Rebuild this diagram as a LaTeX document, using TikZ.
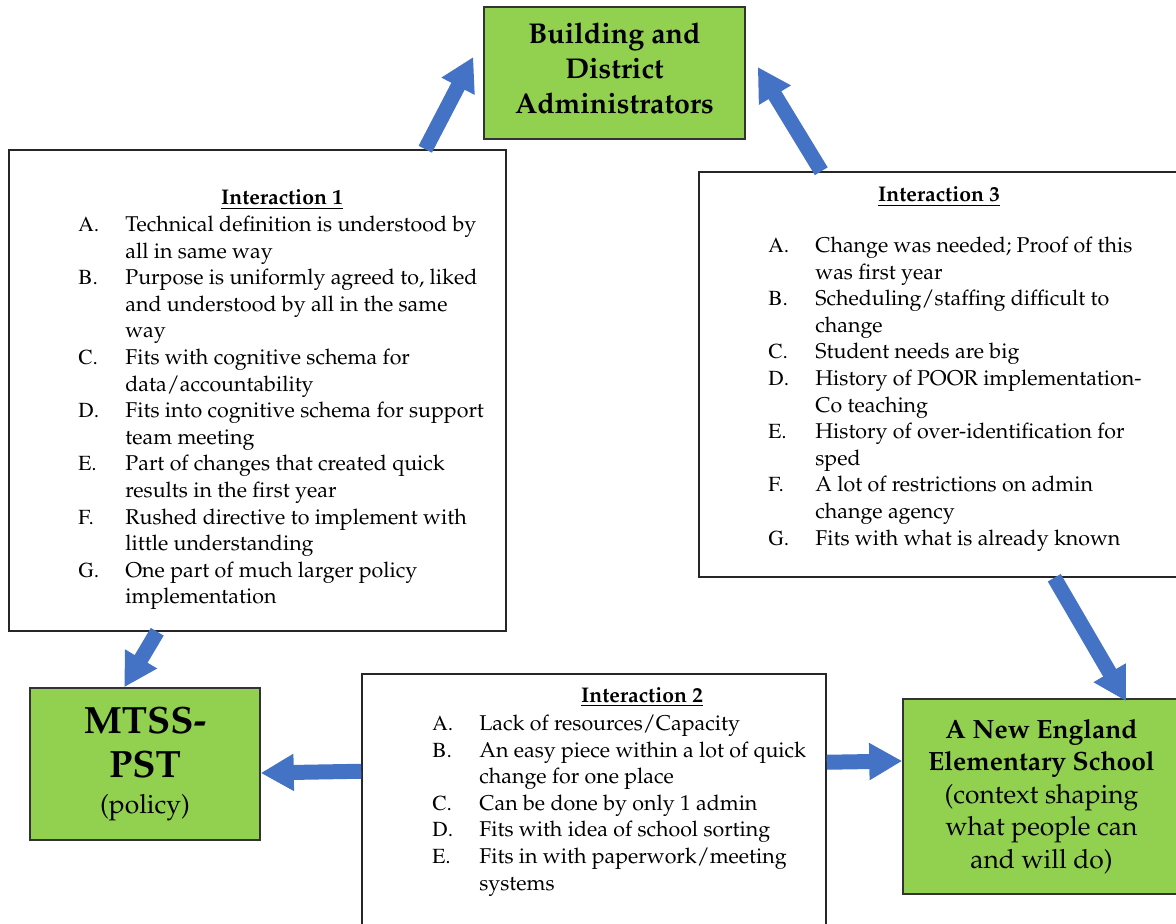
\documentclass[tikz,border=0pt]{standalone}
\usepackage[T1]{fontenc}
\renewcommand{\rmdefault}{ppl}
\usepackage{tikz}
\usetikzlibrary{arrows.meta}
\definecolor{boxgreen}{HTML}{92D050}
\definecolor{arrowblue}{HTML}{4472C4}
\newcommand{\lett}[1]{{\fontfamily{ptm}\selectfont #1}}

\begin{document}
\begin{tikzpicture}[x=0.5pt, y=-0.5pt,
    >={Triangle[width=17.5pt,length=16.5pt]},
    blk/.style={->, draw=arrowblue, line width=7.5pt}]
    \tikzstyle{greenbox} = [draw=black!80, line width=0.75pt, fill=boxgreen, align=center, inner sep=0pt]
    \tikzstyle{intbox} = [draw=black!85, line width=0.75pt, fill=white, inner sep=0pt]
    \tikzstyle{listtext} = [anchor=north west, inner sep=0pt, font=\fontsize{10.7}{13.3}\selectfont]
    \tikzstyle{heading} = [anchor=base, inner sep=0pt, font=\fontsize{10.6}{13.3}\selectfont\bfseries]
    \useasboundingbox (0,0) rectangle (1176,924);

    % the four actors
    \node [greenbox, minimum width=130.5pt, minimum height=66pt,
        font=\fontsize{14.3}{17.5}\selectfont\bfseries] (bld) at (614.5,73)
        {Building and\\District\\Administrators\strut};
    \node [greenbox, minimum width=115pt, minimum height=76pt,
        font=\fontsize{19}{22}\selectfont\bfseries] (mtss) at (145,764)
        {MTSS-\\PST\\[-4pt]{\mdseries\fontsize{13.2}{16}\selectfont (policy)}};
    \node [greenbox, minimum width=138.5pt, minimum height=97.5pt,
        font=\fontsize{13.2}{16.25}\selectfont] (ne) at (1041.5,796.5)
        {{\bfseries A New England}\\{\bfseries Elementary School}\\(context shaping\\what people can\\and will do)};

    % interaction boxes
    \node [intbox, minimum width=248.5pt, minimum height=240.5pt] (int1) at (257.5,390.5) {};
    \node [intbox, minimum width=241pt, minimum height=202.5pt] (int3) at (940,374.5) {};
    \node [intbox, minimum width=232pt, minimum height=130pt] (int2) at (594,804) {};

    \node [heading] (int1head) at (282,205) {\underline{Interaction 1}};
    \node [listtext] (int1list) at (78,212.4) {\begin{tabular}{@{}p{23.5pt}@{}l@{}}
        \lett{A.} & Technical definition is understood by\\
                  & all in same way\\
        \lett{B.} & Purpose is uniformly agreed to, liked\\
                  & and understood by all in the same\\
                  & way\\
        \lett{C.} & Fits with cognitive schema for\\
                  & data/accountability\\
        \lett{D.} & Fits into cognitive schema for support\\
                  & team meeting\\
        \lett{E.} & Part of changes that created quick\\
                  & results in the first year\\
        \lett{F.} & Rushed directive to implement with\\
                  & little understanding\\
        \lett{G.} & One part of much larger policy\\
                  & implementation
        \end{tabular}};

    \node [heading] (int3head) at (939,202) {\underline{Interaction 3}};
    \node [listtext] (int3list) at (768,233.4) {\begin{tabular}{@{}p{23.5pt}@{}l@{}}
        \lett{A.} & Change was needed; Proof of this\\
                  & was first year\\
        \lett{B.} & Scheduling/staffing difficult to\\
                  & change\\
        \lett{C.} & Student needs are big\\
        \lett{D.} & History of POOR implementation-\\
                  & Co teaching\\
        \lett{E.} & History of over-identification for\\
                  & sped\\
        \lett{F.} & A lot of restrictions on admin\\
                  & change agency\\
        \lett{G.} & Fits with what is already known
        \end{tabular}};

    \node [heading] (int2head) at (642,702) {\underline{Interaction 2}};
    \node [listtext] (int2list) at (432,711.4) {\begin{tabular}{@{}p{23.5pt}@{}l@{}}
        \lett{A.} & Lack of resources/Capacity\\
        \lett{B.} & An easy piece within a lot of quick\\
                  & change for one place\\
        \lett{C.} & Can be done by only 1 admin\\
        \lett{D.} & Fits with idea of school sorting\\
        \lett{E.} & Fits in with paperwork/meeting\\
                  & systems
        \end{tabular}};

    % block arrows
    \draw[blk] ([xshift=208.5pt]int1.north west) -- ([xshift=-5pt,yshift=8pt]bld.west);
    \draw[blk] ([xshift=61.5pt]int3.north west) -- ([xshift=6pt,yshift=3pt]bld.east);
    \draw[blk] ([xshift=74.5pt]int1.south west) -- ([xshift=47.5pt]mtss.north west);
    \draw[blk] ([yshift=-49pt]int2.north west) -- ([yshift=-4.5pt]mtss.east);
    \draw[blk] ([yshift=-44.5pt]int2.north east) -- ([yshift=17.75pt]ne.west);
    \draw[blk] ([xshift=178pt]int3.south west) -- ([xshift=112pt,yshift=-1.5pt]ne.north west);
\end{tikzpicture}
\end{document}
